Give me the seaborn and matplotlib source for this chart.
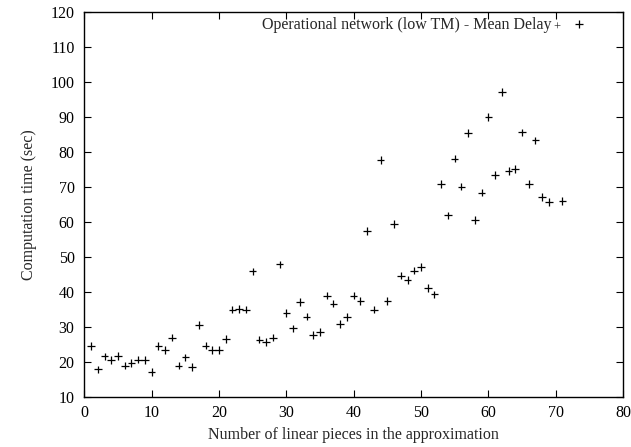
import matplotlib
matplotlib.use("Agg")
import matplotlib.pyplot as plt
import seaborn as sns
import pandas as pd

pieces = list(range(1, 70)) + [71]
delay = [24.5, 17.8, 21.5, 20.5, 21.7, 18.9, 19.6, 20.6, 20.5, 17.1,
         24.5, 23.3, 26.9, 18.9, 21.2, 18.5, 30.4, 24.6, 23.3, 23.3,
         26.5, 34.9, 35.1, 34.9, 45.8, 26.3, 25.6, 26.9, 47.8, 33.9,
         29.5, 37.0, 32.9, 27.7, 28.5, 38.9, 36.6, 30.8, 32.7, 38.9,
         37.4, 57.3, 34.9, 77.7, 37.3, 59.4, 44.6, 43.4, 46.0, 47.0,
         41.1, 39.2, 70.7, 61.8, 78.0, 70.0, 85.4, 60.5, 68.3, 89.9,
         73.4, 97.1, 74.5, 75.1, 85.5, 70.7, 83.2, 67.1, 65.7, 65.9]
series_label = "Operational network (low TM) - Mean Delay"
xlabel = "Number of linear pieces in the approximation"
ylabel = "Computation time (sec)"

df = pd.DataFrame({"x": pieces, "y": delay, "s": series_label})

sns.set_style("ticks")
plt.rcParams["font.family"] = ["Liberation Serif", "DejaVu Serif"]
plt.rcParams.update({
    "xtick.direction": "in", "ytick.direction": "in",
    "xtick.top": True, "ytick.right": True,
    "xtick.major.size": 5, "ytick.major.size": 5,
    "axes.linewidth": 1.0, "axes.edgecolor": "black",
    "xtick.color": "black", "ytick.color": "black",
})

fig = plt.figure(figsize=(6.31, 4.47), dpi=100)
ax = fig.add_axes([0.1336, 0.1126, 0.8537, 0.8612])
sns.scatterplot(data=df, x="x", y="y", hue="s", palette=["black"],
                marker="+", s=30, linewidth=0.9, ax=ax, legend=True)

ax.set_xlim(0, 80)
ax.set_ylim(10, 120)
ax.set_xticks(range(0, 81, 10))
ax.set_yticks(range(10, 121, 10))
ax.tick_params(axis="x", labelsize=11.5, pad=6)
ax.tick_params(axis="y", labelsize=11.5, pad=7)
ax.set_xlabel(xlabel, fontsize=11.5, labelpad=4)
ax.set_ylabel(ylabel, fontsize=11.5, labelpad=10)

leg = ax.legend(loc="upper right", bbox_to_anchor=(0.933, 0.985), frameon=False,
                fontsize=11.5, markerfirst=False, handlelength=1.0,
                handletextpad=1.2, borderpad=0.0, borderaxespad=0.0)

fig.canvas.draw()
txt = leg.get_texts()[0]
bb = txt.get_window_extent()
fig.text((bb.x1 + 2) / fig.bbox.width, (bb.y0 + bb.y1) / 2 / fig.bbox.height - 0.006,
         "+", fontsize=9, ha="left", va="center")

fig.savefig("out.png", dpi=100)
